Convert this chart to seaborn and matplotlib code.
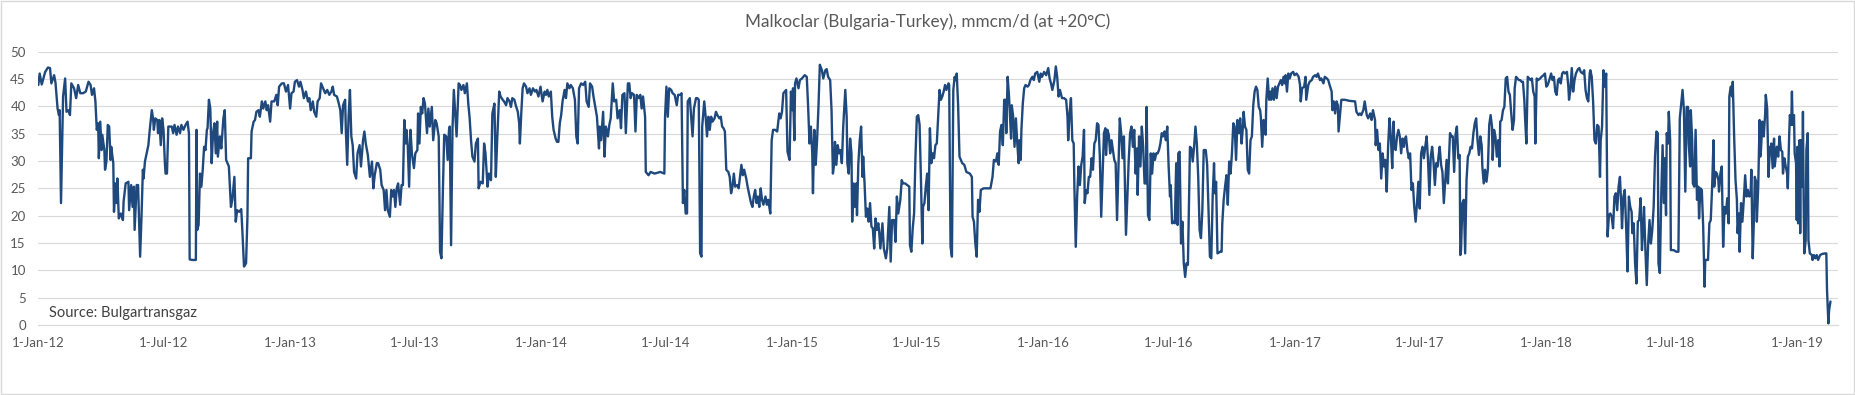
import numpy as np
import pandas as pd
import matplotlib
matplotlib.use("Agg")
import matplotlib.pyplot as plt
import seaborn as sns

# ---------------- data (day offset from 1-Jan-2012, mmcm/d) ----------------
start_date = "2012-01-01"

days_2012 = [0,2,5,10,14,17,19,23,25,28,30,31,33,36,39,41,44,46,48,52,55,58,61,65,69,73,76,78,81,83,85,87,88,90,92,93,96,97,99,101,103,105,106,109,110,112,114,115,117,120,123,124,127,131,132,135,137,139,140,143,145,148,150,152,153,155,158,160,162,165,167,168,170,173,174,176,178,180,182,184,185,187,189,194,196,198,201,203,206,208,211,214,217,219,220,224,227,229,230,231,233,235,237,239,241,243,245,246,248,250,252,254,256,258,260,261,264,266,269,271,273,277,280,282,285,287,289,292,295,297,299,302,304,305,309,310,313,315,317,320,322,325,327,330,332,334,337,339,343,346,348,350,354,357,360,363]
vals_2012 = [43.9,46,44,46.3,47.1,47,44.2,45.7,44.3,39.6,38.4,39.3,22.3,41.8,45.1,39,39.3,38.4,44.2,43.3,41.5,43.9,42.4,42.4,42.7,44.5,43.9,42.1,43.3,40.9,35.7,36.9,30.5,37.2,32,34.8,32,28.4,29.9,36.6,36.3,30.2,32.6,29.6,20.7,25.9,22.3,26.8,19.5,20.4,19.2,22.6,25.9,26.2,21,25.6,21.6,25.3,17.4,25.6,25.6,12.5,19.8,28.4,26.8,29.9,31.7,32.9,35.7,39.3,37.5,35.7,37.8,37.5,35.1,37.5,32.9,37.8,35.7,29.6,27.7,27.7,36.3,36.3,35.1,36.6,34.8,36.3,35.1,36.6,35.7,36.6,37.2,35,12,11.9,11.9,11.9,35.7,17.4,18.3,27.7,25.3,28.4,32.6,32,35.7,36,41.2,39.6,29.6,35.1,36.9,31.4,37.2,30.8,34.5,32.3,37.8,39.3,30.2,29,21.6,22.9,27.1,18.9,21,20.7,21.2,16.2,10.7,11.3,19.8,30.5,30.5,35.4,37.2,37.5,39,39.3,38.1,40.9,39.6,40.9,39.3,40.2,37.2,40.9,40.9,42.1,40.2,43.6,44.2,44.2,42.7,43.9]

days_2013 = [366,368,371,373,376,379,381,384,386,389,392,394,396,399,401,404,406,409,411,414,417,420,423,426,428,430,434,436,439,441,443,446,447,449,451,453,455,457,459,462,464,467,469,472,474,476,479,482,485,487,489,492,494,497,499,502,504,506,508,511,513,515,517,519,521,523,526,528,530,532,534,535,537,539,541,543,546,548,551,552,554,556,558,560,562,565,567,569,572,574,577,579,582,584,586,588,590,593,595,597,598,600,602,604,606,608,611,613,615,618,620,623,625,627,629,631,634,636,639,640,643,646,648,650,653,655,658,660,663,665,667,670,672,675,677,680,682,685,687,689,692,694,697,699,700,702,704,706,709,711,714,716,719,722,724,727,730]
vals_2013 = [39.6,42.4,42.7,44.5,44.8,43.6,44.5,43,41.5,42.7,40.9,41.5,39.3,40.9,39,38.1,40.9,41.5,44.2,43.3,42.4,43,42.1,42.7,43.6,42.1,41.8,40.9,39.3,35.1,40.2,41.2,35.7,29.3,38.1,43,34.5,32.9,28,26.8,31.4,32.9,29,33.8,35.4,33.2,31.1,27.1,29.9,25,27.4,29.6,29.6,28.4,25.6,24.7,21,24.7,21,19.8,24.7,23.5,24.7,21.6,25,25.9,22,25.6,25.6,37.5,33.2,35.7,32.9,25.3,35.7,31.4,28.7,31.4,32,38.7,33.2,39.9,38.7,41.5,40.5,35.1,39.6,36.3,39.9,33.8,37.5,36.9,34.5,13.4,12.2,24.1,34.8,34.5,30.2,35.7,36.3,14.6,35.7,43,38.7,34.5,44.2,43.9,43,43.9,42.4,44.2,40.5,37.8,33.8,30.8,29.9,33.2,34.1,25,26.2,25.9,33.2,31.4,25.3,27.7,26.5,38.7,40.5,27.1,33.8,42.7,41.8,41.2,40.9,40.2,41.5,40.9,39.9,41.5,41.2,40.2,39,36.9,33.2,38.7,43.3,44.2,43.6,42.4,43.3,42.1,43.3,42.7,43,41.8,43.6]

days_2014 = [733,736,738,740,742,745,747,749,752,754,756,758,760,762,765,767,769,772,774,777,780,782,784,786,789,792,795,797,800,802,805,807,810,812,815,816,818,821,823,825,828,830,832,835,837,840,842,845,847,849,852,854,857,859,861,863,866,868,870,873,875,877,879,882,883,887,890,896,904,910,911,913,915,917,920,922,925,928,930,933,935,937,939,941,943,944,947,949,951,953,956,958,960,962,964,965,968,970,972,974,976,978,980,983,985,987,990,992,994,996,998,1000,1003,1005,1007,1009,1011,1013,1016,1018,1020,1022,1024,1026,1029,1031,1034,1036,1038,1040,1042,1044,1046,1048,1050,1052,1054,1057,1059,1061,1064,1066,1068,1071,1074,1077,1079,1081,1083,1085,1087,1089,1092,1094]
vals_2014 = [40.9,42.7,42.1,43,41.8,42.7,38.1,35.7,34.1,33.5,33.5,36.9,38.4,40.9,43,41.5,44.2,43.3,43.9,43.3,41.2,34.5,33.2,43.3,44.2,43.9,44.5,40.9,39.9,44.2,43.6,41.8,39.6,38.1,32.3,36.3,33.8,39,30.8,36.3,34.5,36.6,37.8,44.2,40.9,41.2,37.8,39.3,36,42.1,42.4,35.1,44.2,44.2,41.5,42.4,42.1,35.4,42.1,41.5,42.1,39.6,41.8,38.1,28,27.4,28,27.7,28,27.7,38.1,43.6,38.1,43.3,43,42.4,42.1,40.2,42.1,42.1,42.4,22.3,24.7,20.4,20.4,40.9,41.5,38.1,34.5,39.6,41.5,41.5,41.2,13.1,12.5,36.3,40.9,38.1,34.5,38.1,35.7,38.1,37.2,37.8,39,38.4,37.8,38.1,36.3,36,35.4,28.4,28,27.1,24.1,25.3,27.7,25.3,25.6,25,27.1,29.3,27.4,28.4,26.8,25.3,23.5,22.3,21.6,23.5,24.7,22.3,23.5,21.6,25,22.9,22,23.5,22,22.9,20.4,33.8,35.7,35.7,35.4,38.7,37.8,39,42.4,42.7,43,31.7,30.2,42.7]

days_2015 = [1096,1097,1099,1100,1102,1105,1107,1110,1112,1114,1117,1119,1121,1123,1125,1126,1128,1130,1132,1134,1136,1139,1141,1144,1146,1148,1151,1153,1155,1157,1158,1160,1162,1164,1166,1168,1170,1173,1175,1176,1178,1180,1182,1183,1185,1187,1189,1190,1192,1194,1196,1198,1199,1201,1203,1205,1207,1209,1211,1213,1215,1217,1219,1221,1222,1224,1227,1229,1232,1234,1237,1239,1241,1244,1246,1248,1250,1253,1255,1257,1260,1263,1266,1267,1269,1271,1273,1275,1277,1279,1281,1283,1285,1286,1288,1290,1292,1294,1296,1298,1300,1302,1304,1306,1308,1310,1312,1314,1316,1318,1320,1323,1324,1326,1328,1330,1332,1333,1335,1337,1339,1341,1343,1346,1349,1354,1357,1358,1360,1362,1364,1366,1368,1370,1374,1381,1384,1387,1389,1392,1394,1396,1398,1400,1402,1404,1406,1407,1409,1411,1412,1414,1415,1417,1419,1421,1423,1425,1426,1428,1429,1431,1433,1435,1438,1440,1442,1445,1447,1449,1452,1455,1457,1459]
vals_2015 = [39.3,43.3,33.8,44.2,45.1,43.3,44.8,45.1,45.4,45.7,45.4,39.9,33.2,36.3,31.4,24.1,35.7,29.3,33.8,39.9,47.6,46.6,45.1,46.6,46.8,45.4,44.8,39.3,27.7,29.6,33.5,29.3,32.9,31.4,32,29.6,36.3,43,38.1,29.6,27.7,34.1,31.4,18.9,25.9,21.6,25.9,20.1,29.6,33.8,36.3,27.1,30.8,25.9,19.8,21.3,18.9,22.3,18,17.7,14,19.5,17.4,18.6,17.4,14,18.6,14,12.2,14,21.6,11.6,19.2,19.2,15.2,23.5,20.4,22.9,26.5,25.9,25.9,25.6,25.3,14.6,13.4,17.7,20.4,30.8,38.1,38.4,36.6,26.5,14.9,21.6,22.3,25.3,27.7,21,36,29.6,31.4,30.5,32.9,33.2,38.1,43,41.2,41.8,42.7,43.9,43,44.2,43.9,14.3,12.5,43,45.4,44.8,46,40.2,30.8,30.2,29.6,29.3,28,27.7,27.1,19.8,18.9,14.9,12.5,22.9,20.7,24.7,25,25,25,27.1,30.2,29.9,31.4,29.3,35.4,36.6,32.9,41.2,41.2,35.1,45.4,41.8,39.3,34.1,40.2,38.1,32.6,37.8,33.2,29.6,33.8,30.2,35.7,40.5,43.3,43.9,43.6,43.9,44.8,45.4,44.8,46,46.3,44.5,46,45.4]

days_2016 = [1462,1465,1468,1470,1472,1474,1477,1479,1481,1483,1485,1488,1491,1494,1496,1497,1499,1501,1503,1505,1506,1508,1510,1512,1514,1516,1518,1520,1521,1523,1525,1527,1529,1531,1533,1535,1537,1539,1541,1543,1545,1547,1549,1551,1552,1554,1556,1558,1560,1562,1564,1566,1568,1570,1572,1574,1576,1578,1580,1581,1583,1585,1587,1589,1591,1593,1595,1597,1598,1600,1602,1604,1606,1608,1610,1611,1613,1615,1617,1619,1621,1623,1625,1627,1629,1631,1633,1635,1637,1639,1641,1643,1645,1646,1648,1650,1652,1654,1656,1657,1659,1661,1663,1665,1667,1669,1671,1672,1674,1676,1678,1680,1682,1684,1686,1688,1690,1692,1694,1697,1699,1701,1703,1705,1707,1709,1710,1712,1714,1718,1720,1721,1723,1725,1727,1729,1731,1733,1735,1737,1739,1741,1743,1745,1747,1749,1751,1752,1754,1756,1758,1760,1762,1764,1766,1768,1770,1772,1774,1776,1777,1779,1781,1782,1784,1785,1787,1789,1791,1792,1794,1796,1798,1800,1802,1804,1806,1808,1810,1812,1813,1815,1817,1819,1821,1824,1826]
vals_2016 = [46.3,45.7,47,45.1,44.2,43,44.8,47.3,45.4,41.8,43,41.5,41.5,41.2,38.1,33.8,38.7,41.5,33.8,33.2,25.3,14.3,23.5,29,25.6,29.3,30.8,35.7,22.3,24.7,24.1,27.1,27.1,30.5,28.4,33.2,33.8,36.9,36.6,30.8,19.8,27.7,35.1,36,31.1,35.7,34.8,31.4,33.8,32,30.2,29.6,19.2,28.4,37.8,35.1,30.5,34.5,22.9,16.5,23.5,30.2,35.1,36.3,32.6,35.7,27.7,32.3,23.8,34.5,29,36.3,32.6,25.9,25.9,39.9,20.1,19.2,31.4,27.7,31.4,30.2,31.4,31.4,32,33.2,35.1,34.5,35.4,33.8,36.3,29,23.5,25.6,18.6,18.9,18.6,29.6,18.3,31.4,31.7,14.9,18.9,11.3,8.8,11.3,11,18,32.6,32.3,29.9,32.6,36.3,33.2,27.1,17.4,15.9,21,32,32,29.3,21,12.5,12.2,23.5,29.6,24.1,26.2,13.1,13.4,13.4,18.6,22.9,25.3,27.4,22,29.9,27.7,31.4,36.9,36.3,30.2,37.5,35.1,37.8,33.2,36.3,39,36.3,35.7,28.4,27.7,33.8,34.5,40.2,42.7,43.6,43,39.9,39.3,38.1,32.6,37.5,36.9,34.8,41.2,45.1,41.2,42.7,41.2,43.3,41.2,43.6,41.5,43.6,44.2,44.8,43.9,45.4,44.2,45.7,42.7,46,45.1,46,46.3,45.7]

days_2017 = [1829,1832,1834,1835,1837,1840,1842,1843,1846,1848,1851,1853,1856,1858,1860,1863,1865,1868,1870,1873,1875,1877,1880,1881,1883,1885,1887,1889,1890,1892,1894,1899,1906,1914,1916,1919,1921,1923,1926,1928,1931,1933,1936,1938,1940,1943,1944,1946,1948,1950,1952,1954,1956,1958,1960,1962,1964,1966,1968,1970,1971,1973,1975,1977,1979,1981,1983,1985,1986,1988,1990,1992,1994,1996,1998,2000,2002,2004,2006,2008,2010,2012,2014,2016,2018,2020,2022,2024,2026,2028,2030,2032,2034,2035,2037,2039,2041,2043,2045,2047,2049,2052,2054,2056,2058,2060,2062,2064,2066,2067,2068,2070,2072,2074,2076,2078,2080,2082,2084,2086,2088,2090,2092,2094,2096,2098,2099,2101,2103,2105,2107,2109,2111,2113,2114,2116,2118,2120,2122,2124,2125,2127,2129,2131,2133,2135,2137,2139,2141,2143,2145,2146,2148,2150,2152,2154,2156,2158,2160,2161,2163,2165,2167,2169,2171,2173,2175,2176,2178,2180,2183,2185,2188,2190]
vals_2017 = [46,45.4,43.9,40.9,43.3,43.6,45.4,41.2,43.9,44.5,44.8,45.4,45.7,45.4,46,44.8,45.1,44.2,45.4,45.1,44.8,43.9,42.7,39.3,40.9,38.7,40.9,40.2,35.4,38.4,41.2,41.2,41,40.9,39,38.4,38.7,38.4,39.3,40.9,38.4,37.8,38.7,37.5,39.3,37.5,32.9,35.7,32,33.2,26.8,31.4,29,30.2,24.4,32.6,37.8,34.5,28.7,37.2,33.2,32,34.5,35.7,34.5,31.4,34.1,32.6,33.8,34.5,32,30.5,31.4,24.7,25.9,21.6,18.9,22.3,26.2,21.3,31.4,32.6,30.5,32.6,34.5,30.2,23.8,30.8,32.6,29.9,25.6,29.6,29,30.5,32.6,29.3,28,22.3,26.2,30.2,25.9,35.1,34.5,34.5,28,34.8,36.3,30.5,31.1,12.8,13.7,22.3,22.9,13.1,26.5,30.8,31.4,32.6,32.3,35.1,36.9,37.8,33.8,31.1,34.5,32.9,29,25.9,28.4,26.2,28.4,36.6,38.4,36.3,30.2,35.7,34.5,30.8,33.8,29,37.2,37.5,39.3,39.9,45.1,45.4,42.7,42.1,38.7,35.7,37.5,43.3,45.4,45.1,44.8,44.8,44.5,44.5,41.2,38.1,33.2,45.4,45.1,44.8,45.1,42.7,41.8,33.2,45.1,44.8,45.1,45.4,45.7,46]

days_2018 = [2192,2194,2197,2199,2201,2203,2205,2207,2209,2211,2213,2215,2217,2219,2222,2224,2225,2227,2229,2231,2233,2235,2238,2240,2242,2245,2247,2249,2251,2253,2255,2256,2258,2260,2262,2264,2266,2268,2270,2271,2273,2275,2277,2279,2281,2283,2285,2287,2289,2291,2293,2295,2297,2299,2301,2302,2304,2306,2308,2310,2312,2314,2316,2317,2319,2321,2323,2325,2327,2329,2331,2333,2334,2336,2338,2340,2342,2344,2346,2348,2350,2352,2354,2355,2357,2359,2361,2363,2364,2366,2367,2369,2370,2372,2373,2377,2381,2384,2386,2388,2390,2392,2394,2396,2398,2399,2401,2402,2404,2405,2407,2409,2411,2413,2414,2416,2418,2420,2422,2423,2425,2427,2429,2431,2433,2435,2436,2438,2440,2442,2443,2445,2447,2449,2451,2453,2455,2457,2458,2460,2462,2463,2465,2467,2469,2470,2472,2473,2475,2477,2479,2481,2483,2485,2487,2489,2490,2492,2494,2495,2497,2498,2500,2502,2503,2504,2506,2508,2510,2511,2513,2515,2517,2518,2519,2521,2523,2524,2526,2527,2529,2531,2533,2535,2536,2538,2540,2542,2543,2545,2546,2548,2549,2550,2552,2553,2555,2556]
vals_2018 = [43.6,43.9,45.1,46,44.8,45.4,42.7,42.1,44.8,45.1,44.2,46,46.3,46,46.3,43.6,41.2,43,47,42.7,44.8,46,46.8,47,46.3,46,46.6,43,41.5,40.9,46,46.6,45.4,40.9,33.8,33.2,36.6,36.3,27.1,33.8,36.3,46.6,43.6,46,16.2,20.1,20.4,19.8,17.7,23.5,24.1,21,25.3,27.1,21.6,17.7,23.5,24.7,18,9.8,23.5,21.6,20.7,16.8,18.6,11.3,7.6,18.9,19.2,23.2,13.7,18.6,21.6,13.7,7.3,14.9,19.2,14.9,17.4,21.6,30.8,35.4,35.1,11.3,9.5,23.5,32.9,22.3,30.5,20.1,35.1,33.2,39,33.8,13.7,13.7,13.4,13.4,37.8,40.5,43,39.3,24.4,39.9,39.9,33.2,29,39.3,33.8,25.9,25.3,35.7,22.9,25.3,19.5,25,24.7,18,7,11.9,11.9,11.9,18.6,19.2,25.3,33.8,25.3,28,27.7,26.5,24.4,27.7,29,14.3,21.6,20.4,23.2,18.6,41.8,43.6,41.8,44.5,34.5,26.5,22.9,16.8,20.4,13.4,22.3,18.9,22.9,27.4,23.5,24.7,23.5,24.1,28.4,12.2,20.4,27.1,26.2,18.9,25.3,37.5,30.8,32,37.2,34.5,38.4,42.1,39.6,27.1,32.6,31.4,33.2,28.7,34.1,29,31.4,32.6,30.8,34.5,32,31.7,27.7,30.5,29,27.7,25,34.8,38.4,36.6,42.7,36.6,38.4,31.4,29.6,19.2]

days_2019 = [2557,2558,2560,2561,2562,2564,2565,2566,2567,2569,2570,2572,2573,2575,2578,2579,2581,2583,2585,2587,2590,2593,2597,2599,2600,2602,2603,2605]
vals_2019 = [32.6,18.6,33.8,16.8,33.8,25.3,39,22.9,13.1,15.5,32,35.1,15.5,13.1,12.8,11.9,12.8,12.2,12.8,11.9,12.8,13,13.1,13.1,6.4,0.3,2.7,4.3]

title_text = "Malkoclar (Bulgaria-Turkey), mmcm/d (at +20\u00b0C)"
source_text = "Source: Bulgartransgaz"
y_ticks = [0, 5, 10, 15, 20, 25, 30, 35, 40, 45, 50]
x_tick_dates = ["2012-01-01", "2012-07-01", "2013-01-01", "2013-07-01", "2014-01-01",
                "2014-07-01", "2015-01-01", "2015-07-01", "2016-01-01", "2016-07-01",
                "2017-01-01", "2017-07-01", "2018-01-01", "2018-07-01", "2019-01-01"]
x_end_date = "2019-03-01"

# ---------------- build frame ----------------
all_days = (days_2012 + days_2013 + days_2014 + days_2015 + days_2016 +
            days_2017 + days_2018 + days_2019)
all_vals = (vals_2012 + vals_2013 + vals_2014 + vals_2015 + vals_2016 +
            vals_2017 + vals_2018 + vals_2019)
df = pd.DataFrame({
    "date": pd.Timestamp(start_date) + pd.to_timedelta(all_days, unit="D"),
    "flow": all_vals,
})

# ---------------- style ----------------
sns.set_theme(style="white")
plt.rcParams["font.family"] = ["Lato", "DejaVu Sans"]

GRID = "#d9d9d9"
TXT = "#595959"
LINE = "#1f497d"

fig = plt.figure(figsize=(18.55, 3.95), dpi=100)
ax = fig.add_axes([0.02065, 0.1772, 0.9702, 0.6920])

sns.lineplot(data=df, x="date", y="flow", ax=ax, color=LINE, linewidth=1.7,
             estimator=None, sort=False)

ax.set_ylim(0, 50)
ax.set_yticks(y_ticks)
ax.set_xlim(pd.Timestamp(start_date), pd.Timestamp(x_end_date))
tick_ts = [pd.Timestamp(d) for d in x_tick_dates]
ax.set_xticks(tick_ts)
ax.set_xticklabels([f"{t.day}-{t.strftime('%b-%y')}" for t in tick_ts])

ax.grid(axis="y", color=GRID, linewidth=0.8)
ax.grid(axis="x", visible=False)
ax.set_axisbelow(True)
for s in ["top", "right", "left"]:
    ax.spines[s].set_visible(False)
ax.spines["bottom"].set_color(GRID)
ax.spines["bottom"].set_linewidth(0.8)

ax.tick_params(axis="x", direction="out", length=4.5, width=0.8, color=GRID,
               labelcolor=TXT, labelsize=9.5, pad=4)
ax.tick_params(axis="y", length=0, labelcolor=TXT, labelsize=9.5, pad=9)
ax.set_xlabel("")
ax.set_ylabel("")

ax.text(0.006, 0.045, source_text, transform=ax.transAxes, ha="left",
        va="center", fontsize=10.5, color="#404040")

fig.text(0.5, 1 - 22 / 395, title_text, ha="center", va="center",
         fontsize=12.3, color=TXT)

fig.patches.append(plt.Rectangle((0.0008, 0.002), 0.9984, 0.995,
                                 transform=fig.transFigure, fill=False,
                                 edgecolor=GRID, linewidth=1.0))

fig.savefig("out.png", dpi=100)
